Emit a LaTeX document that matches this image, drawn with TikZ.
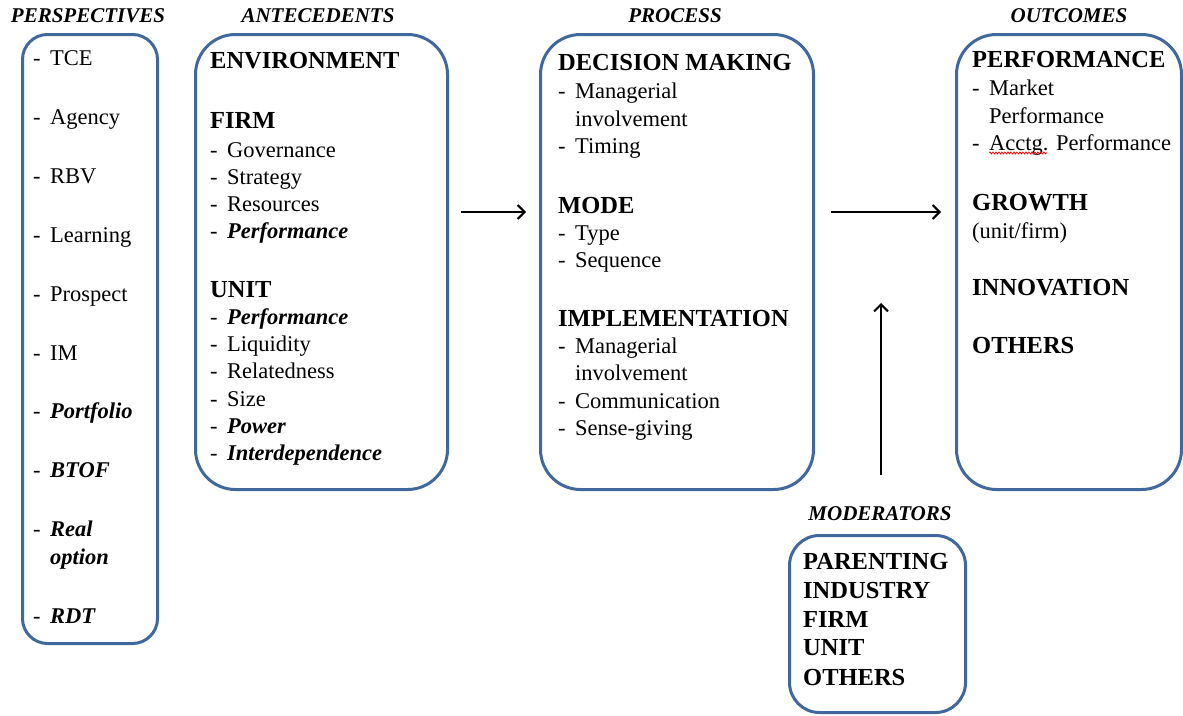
\documentclass[tikz,border=0pt]{standalone}
\usepackage{fontspec}
\setmainfont{Liberation Serif}
\usetikzlibrary{arrows.meta,decorations.pathmorphing}
\definecolor{frame}{HTML}{41689C}
\newcommand\dashitem[1]{\makebox[17pt][l]{-}#1}
\newcommand\bi[1]{\textbf{\textit{#1}}}
\tikzset{
  panel/.style={draw=frame, line width=3pt, rounded corners=#1, inner sep=0pt, anchor=north west},
  ttl/.style={font=\fontsize{21}{25}\selectfont\bfseries\itshape, anchor=base, inner sep=0pt},
  hd/.style={font=\fontsize{24.5}{29}\selectfont\bfseries, anchor=base west, inner sep=0pt},
  txt/.style={font=\fontsize{22.5}{27}\selectfont, anchor=base west, inner sep=0pt},
  arr/.style={-{Straight Barb[length=7pt,width=14pt]}, line width=2pt, black},
  spell/.style={red, line width=0.7pt, decorate, decoration={snake, amplitude=1pt, segment length=3pt}}
}
\begin{document}
\begin{tikzpicture}[x=1pt, y=-1pt]
\useasboundingbox (0,0) rectangle (1183,715);

% column frames
\node[panel=25, minimum width=135pt, minimum height=609pt] (persp) at (21,33) {};
\node[panel=40, minimum width=252pt, minimum height=455pt] (ante) at (194,33) {};
\node[panel=40, minimum width=273pt, minimum height=455pt] (proc) at (539,33) {};
\node[panel=40, minimum width=225pt, minimum height=455pt] (outc) at (955,33) {};
\node[panel=30, minimum width=176pt, minimum height=177pt] (mods) at (788,534) {};

% column titles
\node[ttl] (tPersp) at (88,22) {PERSPECTIVES};
\node[ttl] (tAnte) at (318,22) {ANTECEDENTS};
\node[ttl] (tProc) at (675,22) {PROCESS};
\node[ttl] (tOutc) at (1069,22) {OUTCOMES};
\node[ttl] (tMods) at (880,520) {MODERATORS};

% perspectives
\node[txt] (p1) at (33,65) {\dashitem{TCE}};
\node[txt] (p2) at (33,124) {\dashitem{Agency}};
\node[txt] (p3) at (33,183) {\dashitem{RBV}};
\node[txt] (p4) at (33,242) {\dashitem{Learning}};
\node[txt] (p5) at (33,301) {\dashitem{Prospect}};
\node[txt] (p6) at (33,360) {\dashitem{IM}};
\node[txt] (p7) at (33,418) {\dashitem{\bi{Portfolio}}};
\node[txt] (p8) at (33,477) {\dashitem{\bi{BTOF}}};
\node[txt] (p9) at (33,536) {\dashitem{\bi{Real}}};
\node[txt] (p9b) at (50,564) {\bi{option}};
\node[txt] (p10) at (33,623) {\dashitem{\bi{RDT}}};

% antecedents
\node[hd] (aEnv) at (210,68) {ENVIRONMENT};
\node[hd] (aFirm) at (210,128) {FIRM};
\node[txt] (a1) at (210,157) {\dashitem{Governance}};
\node[txt] (a2) at (210,184) {\dashitem{Strategy}};
\node[txt] (a3) at (210,211) {\dashitem{Resources}};
\node[txt] (a4) at (210,238) {\dashitem{\bi{Performance}}};
\node[hd] (aUnit) at (210,297) {UNIT};
\node[txt] (a5) at (210,324) {\dashitem{\bi{Performance}}};
\node[txt] (a6) at (210,351) {\dashitem{Liquidity}};
\node[txt] (a7) at (210,378) {\dashitem{Relatedness}};
\node[txt] (a8) at (210,406) {\dashitem{Size}};
\node[txt] (a9) at (210,433) {\dashitem{\bi{Power}}};
\node[txt] (a10) at (210,460) {\dashitem{\bi{Interdependence}}};

% process
\node[hd] (rDec) at (558,70) {DECISION MAKING};
\node[txt] (r1) at (558,98) {\dashitem{Managerial}};
\node[txt] (r1b) at (575,126) {involvement};
\node[txt] (r2) at (558,153) {\dashitem{Timing}};
\node[hd] (rMode) at (558,213) {MODE};
\node[txt] (r3) at (558,240) {\dashitem{Type}};
\node[txt] (r4) at (558,267) {\dashitem{Sequence}};
\node[hd] (rImpl) at (558,326) {IMPLEMENTATION};
\node[txt] (r5) at (558,353) {\dashitem{Managerial}};
\node[txt] (r5b) at (575,380) {involvement};
\node[txt] (r6) at (558,408) {\dashitem{Communication}};
\node[txt] (r7) at (558,435) {\dashitem{Sense-giving}};

% outcomes
\node[hd] (oPerf) at (972,67) {PERFORMANCE};
\node[txt] (o1) at (972,95) {\dashitem{Market}};
\node[txt] (o1b) at (989,123) {Performance};
\node[txt] (o2) at (972,150) {\dashitem{Acctg. Performance}};
\draw[spell] ([xshift=17pt,yshift=-3pt]o2.base west) -- ++(58,0);
\node[hd] (oGrow) at (972,210) {GROWTH};
\node[txt] (oGrowSub) at (972,238) {(unit/firm)};
\node[hd] (oInno) at (972,295) {INNOVATION};
\node[hd] (oOth) at (972,353) {OTHERS};

% moderators
\node[hd] (m1) at (803,569) {PARENTING};
\node[hd] (m2) at (803,598) {INDUSTRY};
\node[hd] (m3) at (803,627) {FIRM};
\node[hd] (m4) at (803,655) {UNIT};
\node[hd] (m5) at (803,685) {OTHERS};

% connectors
\coordinate (row) at (0,212);
\coordinate (modTip) at (881,303);
\draw[arr, shorten <=12pt, shorten >=13pt] (ante.east |- row) -- (proc.west |- row);
\draw[arr, shorten <=16pt, shorten >=14pt] (proc.east |- row) -- (outc.west |- row);
\draw[arr, shorten <=59pt] (mods.north -| modTip) -- (modTip);
\end{tikzpicture}
\end{document}
